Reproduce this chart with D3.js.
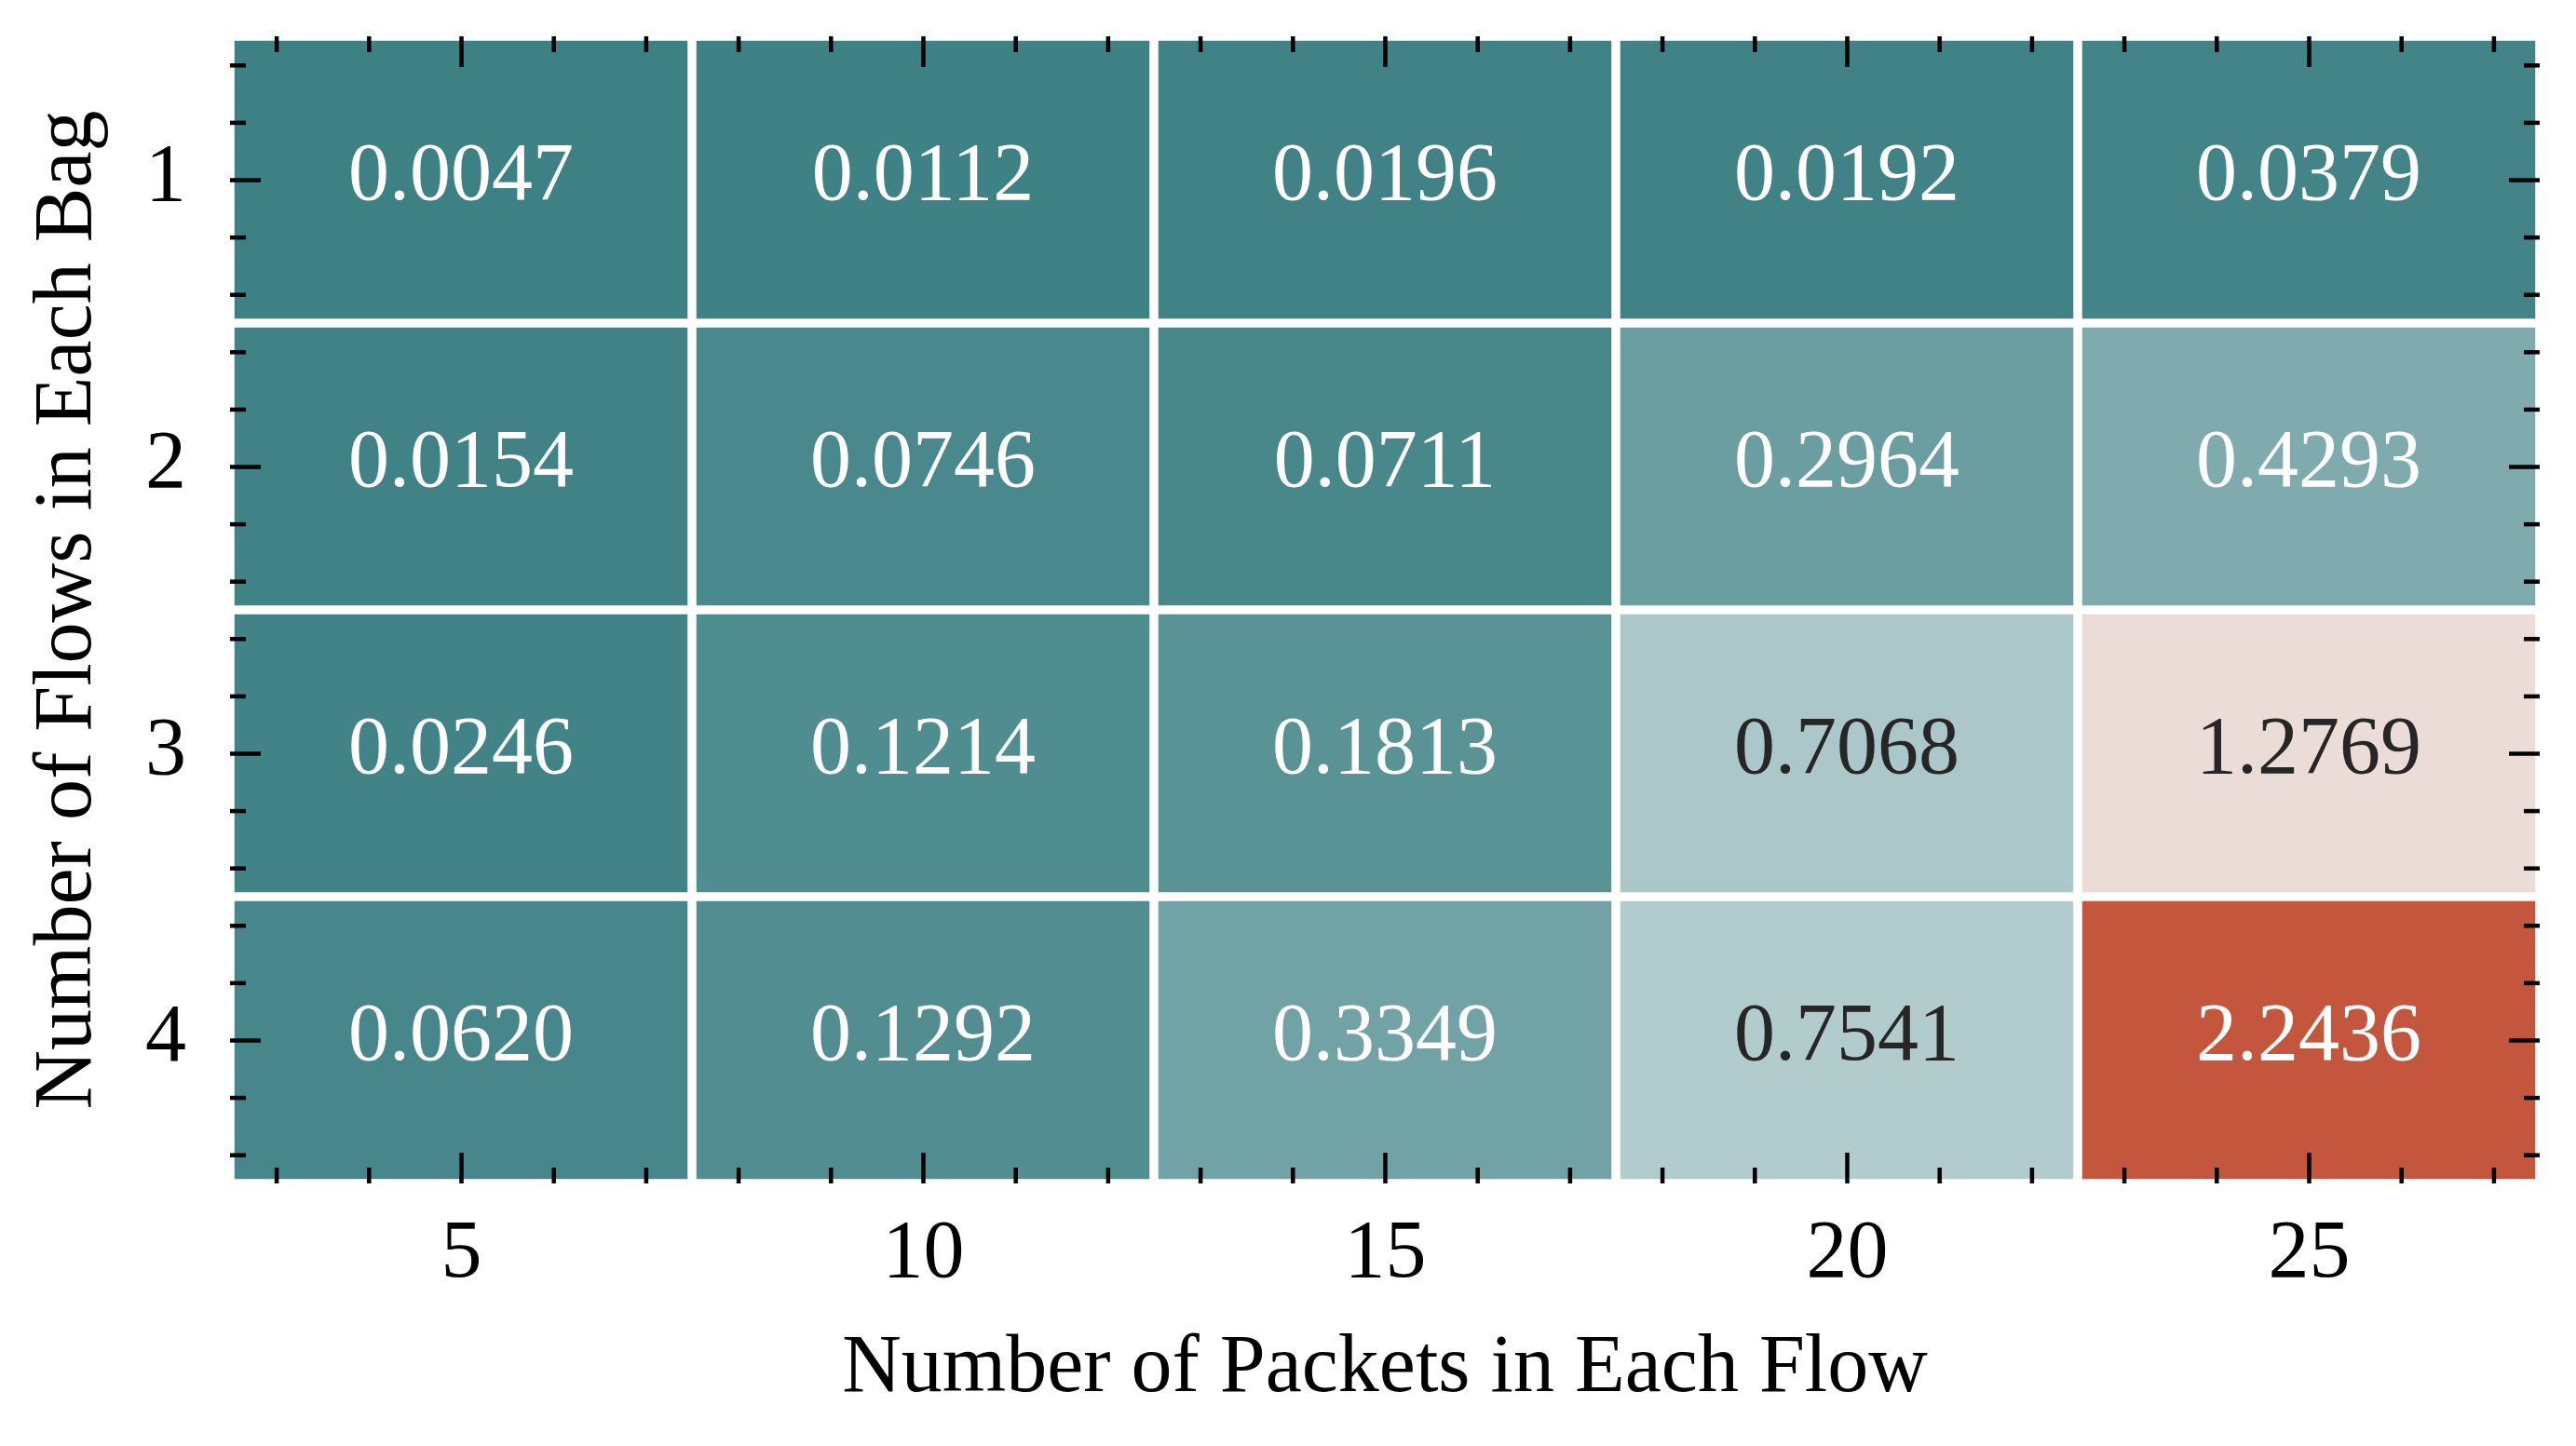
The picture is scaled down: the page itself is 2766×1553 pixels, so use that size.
<!DOCTYPE html>
<html>
<head>
<meta charset="utf-8">
<script src="https://cdn.jsdelivr.net/npm/d3@7"></script>
<style>
  html, body { margin: 0; padding: 0; background: #ffffff; }
  svg { display: block; }
  text { font-family: "Liberation Serif", "Times New Roman", serif; }
</style>
</head>
<body>
<svg id="chart" width="2766" height="1553"></svg>
<script>
// ---------------- data ----------------
const packets = [5, 10, 15, 20, 25];          // x categories
const flows = [1, 2, 3, 4];                   // y categories
const flows1 = [0.0047, 0.0112, 0.0196, 0.0192, 0.0379];
const flows2 = [0.0154, 0.0746, 0.0711, 0.2964, 0.4293];
const flows3 = [0.0246, 0.1214, 0.1813, 0.7068, 1.2769];
const flows4 = [0.0620, 0.1292, 0.3349, 0.7541, 2.2436];
const xMinorTicks = [3,4,6,7,8,9,11,12,13,14,16,17,18,19,21,22,23,24,26,27];
const yMinorTicks = [0.6,0.8,1.2,1.4,1.6,1.8,2.2,2.4,2.6,2.8,3.2,3.4,3.6,3.8,4.2,4.4];
const xLabel = "Number of Packets in Each Flow";
const yLabel = "Number of Flows in Each Bag";

const rows = [flows1, flows2, flows3, flows4];
const cells = [];
flows.forEach((f, i) => packets.forEach((p, j) => cells.push({ f, p, v: rows[i][j] })));

// ---------------- layout ----------------
const L = 247, R = 2727, T = 39, B = 1271;
const FS = 88;
const svg = d3.select("#chart");

const x = d3.scaleLinear().domain([2.5, 27.5]).range([L, R]);
const y = d3.scaleLinear().domain([0.5, 4.5]).range([T, B]);

const allV = cells.map(d => d.v);
const vmin = d3.min(allV), vmax = d3.max(allV), vmid = (vmin + vmax) / 2;
const color = d3.scaleLinear()
  .domain([vmin, vmid, vmid, vmax])
  .range(["#3e8185", "#ebf0f1", "#f2f1f1", "#c3563d"])
  .interpolate(d3.interpolateRgb)
  .clamp(true);

function lum(c) {
  const rgb = d3.rgb(c);
  const f = u => { u /= 255; return u <= 0.03928 ? u / 12.92 : Math.pow((u + 0.055) / 1.055, 2.4); };
  return 0.2126 * f(rgb.r) + 0.7152 * f(rgb.g) + 0.0722 * f(rgb.b);
}

const half = 4.75;
const g = svg.append("g");
g.selectAll("rect.cell").data(cells).enter().append("rect")
  .attr("class", "cell")
  .attr("x", d => x(d.p - 2.5) + half)
  .attr("y", d => y(d.f - 0.5) + half)
  .attr("width", d => x(d.p + 2.5) - x(d.p - 2.5) - 2 * half)
  .attr("height", d => y(d.f + 0.5) - y(d.f - 0.5) - 2 * half)
  .attr("fill", d => color(d.v));

g.selectAll("text.ann").data(cells).enter().append("text")
  .attr("class", "ann")
  .attr("x", d => x(d.p))
  .attr("y", d => y(d.f) + 21)
  .attr("text-anchor", "middle")
  .attr("font-size", FS)
  .attr("fill", d => lum(color(d.v)) > 0.408 ? "#262626" : "#ffffff")
  .text(d => d.v.toFixed(4));

// ---------------- axes ----------------
const MAJ = 33, MIN = 17, TW = 4.5;
function style(sel) {
  sel.select(".domain").remove();
  sel.selectAll(".tick line").attr("stroke", "#000").attr("stroke-width", TW);
  sel.selectAll(".tick text").attr("font-size", FS).attr("fill", "#000")
     .attr("font-family", "Liberation Serif, Times New Roman, serif");
}

// bottom
svg.append("g").attr("transform", `translate(0,${B})`)
  .call(d3.axisBottom(x).tickValues(packets).tickFormat(d3.format("d")).tickSizeInner(-MAJ).tickSizeOuter(0).tickPadding(37.5))
  .call(style);
svg.append("g").attr("transform", `translate(0,${B})`)
  .call(d3.axisBottom(x).tickValues(xMinorTicks).tickFormat("").tickSizeInner(-MIN).tickSizeOuter(0))
  .call(style);
// top
svg.append("g").attr("transform", `translate(0,${T})`)
  .call(d3.axisTop(x).tickValues(packets).tickFormat("").tickSizeInner(-MAJ).tickSizeOuter(0))
  .call(style);
svg.append("g").attr("transform", `translate(0,${T})`)
  .call(d3.axisTop(x).tickValues(xMinorTicks).tickFormat("").tickSizeInner(-MIN).tickSizeOuter(0))
  .call(style);
// left
const leftAx = svg.append("g").attr("transform", `translate(${L},0)`)
  .call(d3.axisLeft(y).tickValues(flows).tickFormat(d3.format("d")).tickSizeInner(-MAJ).tickSizeOuter(0).tickPadding(47))
  .call(style);
leftAx.selectAll(".tick text").attr("dy", null).attr("y", 21);
svg.append("g").attr("transform", `translate(${L},0)`)
  .call(d3.axisLeft(y).tickValues(yMinorTicks).tickFormat("").tickSizeInner(-MIN).tickSizeOuter(0))
  .call(style);
// right
svg.append("g").attr("transform", `translate(${R},0)`)
  .call(d3.axisRight(y).tickValues(flows).tickFormat("").tickSizeInner(-MAJ).tickSizeOuter(0))
  .call(style);
svg.append("g").attr("transform", `translate(${R},0)`)
  .call(d3.axisRight(y).tickValues(yMinorTicks).tickFormat("").tickSizeInner(-MIN).tickSizeOuter(0))
  .call(style);

// ---------------- labels ----------------
svg.append("text")
  .attr("x", (L + R) / 2)
  .attr("y", 1494)
  .attr("text-anchor", "middle")
  .attr("font-size", FS)
  .attr("fill", "#000")
  .text(xLabel);

svg.append("text")
  .attr("transform", `translate(97,${(T + B) / 2}) rotate(-90)`)
  .attr("text-anchor", "middle")
  .attr("font-size", FS)
  .attr("fill", "#000")
  .text(yLabel);
</script>
</body>
</html>
